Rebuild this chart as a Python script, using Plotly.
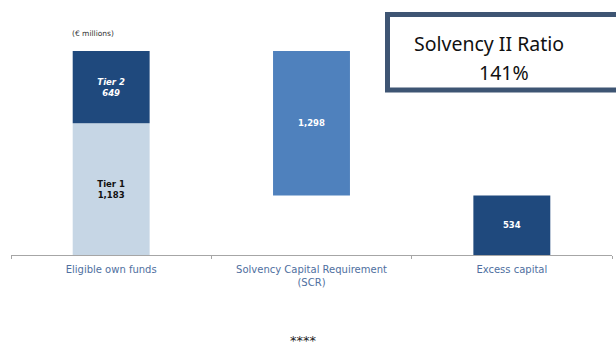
import plotly.graph_objects as go

# Solvency II capital position (€ millions)
categories = ["Eligible own funds", "Solvency Capital Requirement", "Excess capital"]
tick_labels = ["Eligible own funds", "Solvency Capital Requirement<br>(SCR)", "Excess capital"]
tier1 = 1183
tier2 = 649
scr = 1298
excess = 534
ratio_label = "141%"

own_funds = tier1 + tier2

W, H = 616, 347
L, R, T, B = 11, 4, 51, 92
pw, ph = W - L - R, H - T - B

def px(x):
    return (x - L) / pw

def py(y):
    return (H - B - y) / ph

BAR_W = 0.384
value_font = dict(family="DejaVu Sans", size=8.5, color="white")

fig = go.Figure()
fig.add_trace(go.Bar(
    x=[categories[0]], y=[tier1], base=[0], width=BAR_W,
    marker=dict(color="#C6D6E5", line=dict(width=0)),
    text=[f"<b>Tier 1<br>{tier1:,}</b>"], textposition="inside",
    insidetextanchor="middle", textangle=0,
    textfont=dict(family="DejaVu Sans", size=8.5, color="#111111"),
))
fig.add_trace(go.Bar(
    x=[categories[0]], y=[tier2], base=[tier1], width=BAR_W,
    marker=dict(color="#1F497D", line=dict(width=0)),
    text=[f"<b><i>Tier 2<br>{tier2:,}</i></b>"], textposition="inside",
    insidetextanchor="middle", textangle=0, textfont=value_font,
))
fig.add_trace(go.Bar(
    x=[categories[1]], y=[scr], base=[own_funds - scr], width=BAR_W,
    marker=dict(color="#4F81BD", line=dict(width=0)),
    text=[f"<b>{scr:,}</b>"], textposition="inside",
    insidetextanchor="middle", textangle=0, textfont=value_font,
))
fig.add_trace(go.Bar(
    x=[categories[2]], y=[excess], base=[0], width=BAR_W,
    marker=dict(color="#1F497D", line=dict(width=0)),
    text=[f"<b>{excess:,}</b>"], textposition="inside",
    insidetextanchor="middle", textangle=0, textfont=value_font,
))

fig.update_layout(
    width=W, height=H,
    margin=dict(l=L, r=R, t=T, b=B),
    paper_bgcolor="white", plot_bgcolor="white",
    barmode="overlay", showlegend=False,
    uniformtext=dict(minsize=6, mode="show"),
    xaxis=dict(
        type="category", categoryorder="array", categoryarray=categories,
        tickvals=categories, ticktext=tick_labels,
        range=[-0.5, 2.5], showgrid=False, zeroline=False,
        showline=True, linecolor="#A6A6A6", linewidth=1,
        ticks="outside", tickson="boundaries", ticklen=3,
        tickcolor="#A6A6A6", tickwidth=1, ticklabelstandoff=5,
        tickfont=dict(family="DejaVu Sans", size=10, color="#4F6FA0"),
    ),
    yaxis=dict(range=[0, own_funds], visible=False, fixedrange=True),
    shapes=[
        dict(type="rect", xref="paper", yref="paper",
             x0=px(387.5), x1=px(640), y0=py(90), y1=py(14.5),
             line=dict(color="#3E5573", width=5), fillcolor="white",
             layer="above"),
    ],
    annotations=[
        dict(text="(€ millions)", xref="paper", yref="paper",
             x=px(70), y=py(33), xanchor="left", yanchor="middle",
             showarrow=False,
             font=dict(family="DejaVu Sans", size=7.5, color="#333333")),
        dict(text="Solvency II Ratio", xref="paper", yref="paper",
             x=px(488.5), y=py(44), xanchor="center", yanchor="middle",
             showarrow=False,
             font=dict(family="Noto Sans", size=19.5, color="#111111")),
        dict(text=ratio_label, xref="paper", yref="paper",
             x=px(504), y=py(72), xanchor="center", yanchor="middle",
             showarrow=False,
             font=dict(family="Noto Sans", size=19.5, color="#111111")),
        dict(text="****", xref="paper", yref="paper",
             x=px(303), y=py(340), xanchor="center", yanchor="middle",
             showarrow=False,
             font=dict(family="DejaVu Sans", size=13, color="#222222")),
    ],
)

fig.write_html("out.html")
